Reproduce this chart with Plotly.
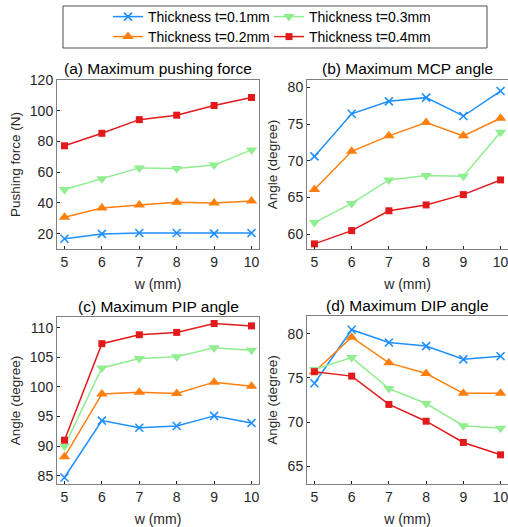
import plotly.graph_objects as go

W = [5, 6, 7, 8, 9, 10]
series_names = ["Thickness t=0.1mm", "Thickness t=0.2mm", "Thickness t=0.3mm", "Thickness t=0.4mm"]

push_01 = [16.7, 19.8, 20.4, 20.4, 20.0, 20.4]
push_02 = [30.7, 36.7, 38.7, 40.5, 40.0, 41.2]
push_03 = [48.7, 55.7, 62.8, 62.4, 64.6, 74.5]
push_04 = [77.2, 85.3, 94.2, 97.1, 103.4, 108.6]

mcp_01 = [70.6, 76.4, 78.1, 78.6, 76.1, 79.5]
mcp_02 = [66.1, 71.3, 73.4, 75.2, 73.4, 75.8]
mcp_03 = [61.6, 64.2, 67.4, 68.0, 67.9, 73.9]
mcp_04 = [58.7, 60.5, 63.2, 64.0, 65.4, 67.4]

pip_01 = [84.7, 94.3, 93.1, 93.4, 95.1, 93.9]
pip_02 = [88.2, 98.8, 99.1, 98.9, 100.8, 100.1]
pip_03 = [90.0, 103.2, 104.8, 105.1, 106.6, 106.2]
pip_04 = [91.0, 107.3, 108.8, 109.2, 110.7, 110.3]

dip_01 = [74.4, 80.45, 79.0, 78.6, 77.1, 77.45]
dip_02 = [75.7, 79.6, 76.7, 75.5, 73.25, 73.25]
dip_03 = [75.95, 77.3, 73.8, 72.1, 69.6, 69.3]
dip_04 = [75.7, 75.2, 72.0, 70.1, 67.7, 66.3]

titles = ["(a) Maximum pushing force", "(b) Maximum MCP angle",
          "(c) Maximum PIP angle", "(d) Maximum DIP angle"]
ytitles = ["Pushing force (N)", "Angle (degree)", "Angle (degree)", "Angle (degree)"]
xtitle = "w (mm)"

panels = [
    [push_01, push_02, push_03, push_04],
    [mcp_01, mcp_02, mcp_03, mcp_04],
    [pip_01, pip_02, pip_03, pip_04],
    [dip_01, dip_02, dip_03, dip_04],
]

colors = ["#1E8FFF", "#FF7F0E", "#90EE90", "#E31A1C"]
symbols = ["x-thin", "triangle-up", "triangle-down", "square"]
sizes = [8, 10, 10, 7]

FW, FH = 508, 527
FONT = "Liberation Sans, Arial, sans-serif"
TXT = "#262626"

# pixel boxes (left, right, top, bottom)
boxes = [(57, 259, 80, 249), (307, 508, 80, 249), (57, 259, 317, 484), (307, 508, 316, 484)]
yranges = [[10, 120], [58, 81], [83.6, 111.8], [63, 82]]
ydticks = [20, 5, 5, 5]

fig = go.Figure()

# legend assignment: row1 = t0.1, t0.3 ; row2 = t0.2, t0.4
legend_of = ["legend", "legend2", "legend", "legend2"]
rank_of = [1, 1, 2, 2]

for p, data in enumerate(panels):
    xa = "x" if p == 0 else f"x{p+1}"
    ya = "y" if p == 0 else f"y{p+1}"
    for s, vals in enumerate(data):
        mk = dict(symbol=symbols[s], size=sizes[s], color=colors[s],
                  line=dict(width=1.6 if s == 0 else 0, color=colors[s]))
        fig.add_trace(go.Scatter(
            x=W, y=vals, mode="lines+markers", name=series_names[s],
            line=dict(color=colors[s], width=1.5), marker=mk,
            xaxis=xa, yaxis=ya, showlegend=(p == 0),
            legend=legend_of[s], legendrank=rank_of[s],
        ))

layout = dict(
    width=FW, height=FH, margin=dict(l=0, r=0, t=0, b=0, autoexpand=False),
    paper_bgcolor="white", plot_bgcolor="white",
    font=dict(family=FONT, size=14, color=TXT),
)

annotations = []
for p, (l, r, t, b) in enumerate(boxes):
    xk = "xaxis" if p == 0 else f"xaxis{p+1}"
    yk = "yaxis" if p == 0 else f"yaxis{p+1}"
    ya = "y" if p == 0 else f"y{p+1}"
    xa = "x" if p == 0 else f"x{p+1}"
    layout[xk] = dict(
        domain=[l / FW, r / FW], anchor=ya, range=[4.8, 10.2],
        tickmode="array", tickvals=W, ticks="inside", ticklen=3, tickcolor="#262626",
        showline=True, linecolor="#808080", linewidth=1, mirror=True,
        showgrid=False, zeroline=False, tickfont=dict(size=14, color=TXT),
        ticklabeloverflow="allow",
        title=dict(text=xtitle, font=dict(size=14, color=TXT), standoff=10),
    )
    layout[yk] = dict(
        domain=[1 - b / FH, 1 - t / FH], anchor=xa, range=yranges[p],
        dtick=ydticks[p], tick0=0, ticks="inside", ticklen=3, tickcolor="#262626",
        showline=True, linecolor="#808080", linewidth=1, mirror=True,
        showgrid=False, zeroline=False, tickfont=dict(size=14, color=TXT),
        title=dict(text=ytitles[p], font=dict(size=13.5, color=TXT), standoff=6),
    )
    annotations.append(dict(
        text=titles[p], x=(l + r) / 2 / FW, y=1 - (t - 11) / FH,
        xref="paper", yref="paper", xanchor="center", yanchor="middle",
        showarrow=False, font=dict(size=15.5, color="#000000"),
    ))

layout["annotations"] = annotations
leg_common = dict(orientation="h", xref="paper", yref="paper", xanchor="left", yanchor="middle",
                  font=dict(size=14, color="#000000"), bgcolor="rgba(0,0,0,0)",
                  borderwidth=0, entrywidth=116, tracegroupgap=0, itemclick=False)
layout["legend"] = dict(leg_common, x=108 / FW, y=1 - 17 / FH)
layout["legend2"] = dict(leg_common, x=108 / FW, y=1 - 37 / FH)
layout["shapes"] = [dict(type="rect", xref="paper", yref="paper",
                         x0=63 / FW, x1=487 / FW, y0=1 - 48 / FH, y1=1 - 6 / FH,
                         line=dict(color="#4d4d4d", width=1), fillcolor="rgba(0,0,0,0)")]
fig.update_layout(**layout)

fig.write_html("out.html")
